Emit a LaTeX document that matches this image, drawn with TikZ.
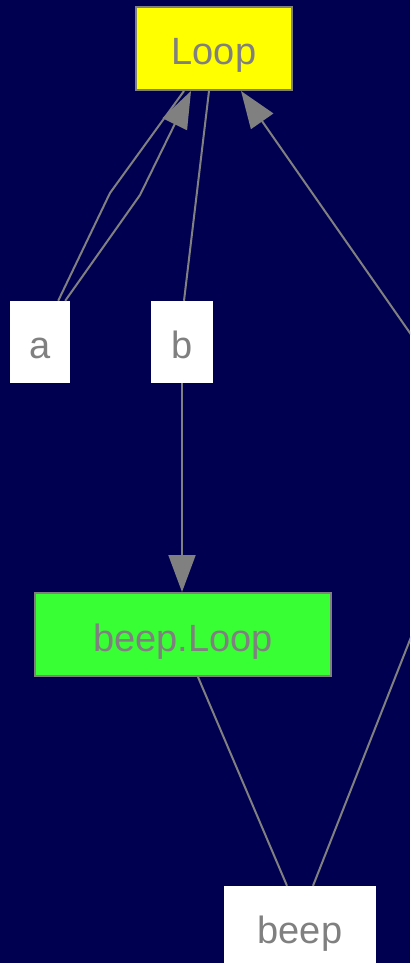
\documentclass[tikz,border=0pt]{standalone}
\usepackage{fontspec}
\setmainfont{Liberation Sans}
\usetikzlibrary{arrows.meta}

\definecolor{navy}{RGB}{0,0,80}
\definecolor{edgegray}{RGB}{128,128,128}
\definecolor{loopyellow}{RGB}{255,255,0}
\definecolor{loopgreen}{RGB}{56,255,51}

\begin{document}
\begin{tikzpicture}[x=1pt,y=-1pt,
  box/.style={draw=edgegray,line width=2pt,inner sep=0pt,text=edgegray,
    text height=36pt,text depth=3pt,font=\fontsize{38}{42}\selectfont},
  leaf/.style={fill=white,inner sep=0pt,text=edgegray,
    text height=36pt,text depth=3pt,font=\fontsize{38}{42}\selectfont},
  link/.style={draw=edgegray,line width=2pt},
  arr/.style={link,-{Triangle[length=37pt,width=27pt]}}]
  \fill[navy] (0,0) rectangle (410,963);
  \useasboundingbox (0,0) rectangle (410,963);
  \clip (0,0) rectangle (410,963);
  % nodes
  \node[box,fill=loopyellow,minimum width=156pt,minimum height=83pt] (loop) at (214,48.5) {Loop};
  \node[leaf,minimum width=60pt,minimum height=82pt] (a) at (40,342) {a};
  \node[leaf,minimum width=62pt,minimum height=82pt] (b) at (182,342) {b};
  \node[box,fill=loopgreen,minimum width=296pt,minimum height=83pt] (bloop) at (183,634.5) {beep.Loop};
  \node[leaf,minimum width=152pt,minimum height=82pt] (beep) at (300,927) {beep};
  \coordinate (offtop) at (440,376);
  \coordinate (offlow) at (430,589);
  % edges
  \draw[link] ([xshift=-12pt]a.north east) -- (110,193) -- ([xshift=-30pt]loop.south);
  \draw[arr] ([xshift=-5pt]a.north east) -- (140,195) -- ([xshift=-23pt]loop.south);
  \draw[link] ([xshift=-5pt]loop.south) -- ([xshift=2pt]b.north);
  \draw[arr] (offtop) -- ([xshift=27pt]loop.south);
  \draw[arr] (b.south) -- (b.south |- bloop.north);
  \draw[link] ([xshift=15pt]bloop.south) -- ([xshift=-13pt]beep.north);
  \draw[link] ([xshift=13pt]beep.north) -- (offlow);
\end{tikzpicture}
\end{document}
